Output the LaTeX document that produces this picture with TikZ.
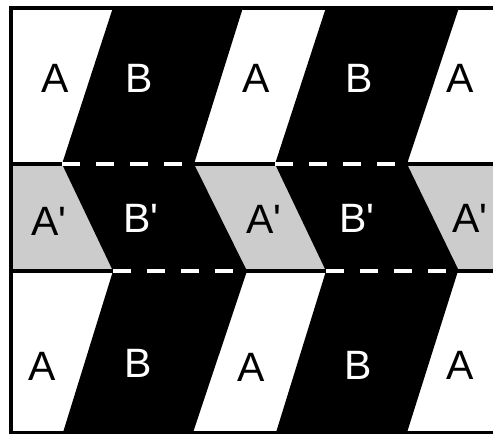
\documentclass[tikz,border=0pt]{standalone}
\usepackage{fontspec}
\setmainfont{Liberation Sans}
\begin{document}
\begin{tikzpicture}[x=1pt,y=-1pt,
  lbl/.style={inner sep=0pt,font=\fontsize{41}{41}\selectfont},
  onblack/.style={lbl,text=white},
  onlight/.style={lbl,text=black},
  sepline/.style={black,line width=3.5pt},
  seam/.style={white,line width=4pt,dash pattern=on 18pt off 16pt},
  frameline/.style={black,line width=4pt}]
\useasboundingbox (0,0) rectangle (493,434);
\clip (0,0) rectangle (493,434);
\fill[white] (0,0) rectangle (493,434);
% middle row gray
\fill[black!20] (10,164) rectangle (500,271);
% top row B parallelograms
\fill[black] (113,7.5) -- (243,7.5) -- (194,164) -- (62,164) -- cycle;
\fill[black] (326,7.5) -- (459,7.5) -- (407,164) -- (275,164) -- cycle;
% middle row B' shapes
\fill[black] (62,164) -- (194,164) -- (247,271) -- (113,271) -- cycle;
\fill[black] (275,164) -- (407,164) -- (459,271) -- (326,271) -- cycle;
% bottom row B parallelograms
\fill[black] (113,271) -- (247,271) -- (193,432.5) -- (63,432.5) -- cycle;
\fill[black] (326,271) -- (458,271) -- (407,432.5) -- (276,432.5) -- cycle;
% separating lines
\draw[sepline] (10,164) -- (500,164);
\draw[sepline] (10,271) -- (500,271);
% white dashed seams
\coordinate (s1a) at (62,163.5);  \coordinate (s1b) at (194,163.5);
\coordinate (s2a) at (275,163.5); \coordinate (s2b) at (407,163.5);
\coordinate (s3a) at (113,270.5); \coordinate (s3b) at (247,270.5);
\coordinate (s4a) at (326,270.5); \coordinate (s4b) at (458,270.5);
\draw[seam] (s1a) -- (s1b);
\draw[seam] (s2a) -- (s2b);
\draw[seam] (s3a) -- (s3b);
\draw[seam] (s4a) -- (s4b);
% frame
\draw[frameline] (510,7.5) -- (10.5,7.5) -- (10.5,432.5) -- (510,432.5);
% labels top row
\node[onlight] (t1) at (55,78) {A};
\node[onblack] (t2) at (139,78) {B};
\node[onlight] (t3) at (256,78) {A};
\node[onblack] (t4) at (359,78) {B};
\node[onlight] (t5) at (460,78) {A};
% labels middle row
\node[onlight] (m1) at (49,221) {A\textquotesingle};
\node[onblack] (m2) at (141,218) {B\textquotesingle};
\node[onlight] (m3) at (264,219) {A\textquotesingle};
\node[onblack] (m4) at (357,218) {B\textquotesingle};
\node[onlight] (m5) at (470,218) {A\textquotesingle};
% labels bottom row
\node[onlight] (b1) at (42,366) {A};
\node[onblack] (b2) at (138,363) {B};
\node[onlight] (b3) at (251,367) {A};
\node[onblack] (b4) at (358,365) {B};
\node[onlight] (b5) at (460,365) {A};
\end{tikzpicture}
\end{document}
